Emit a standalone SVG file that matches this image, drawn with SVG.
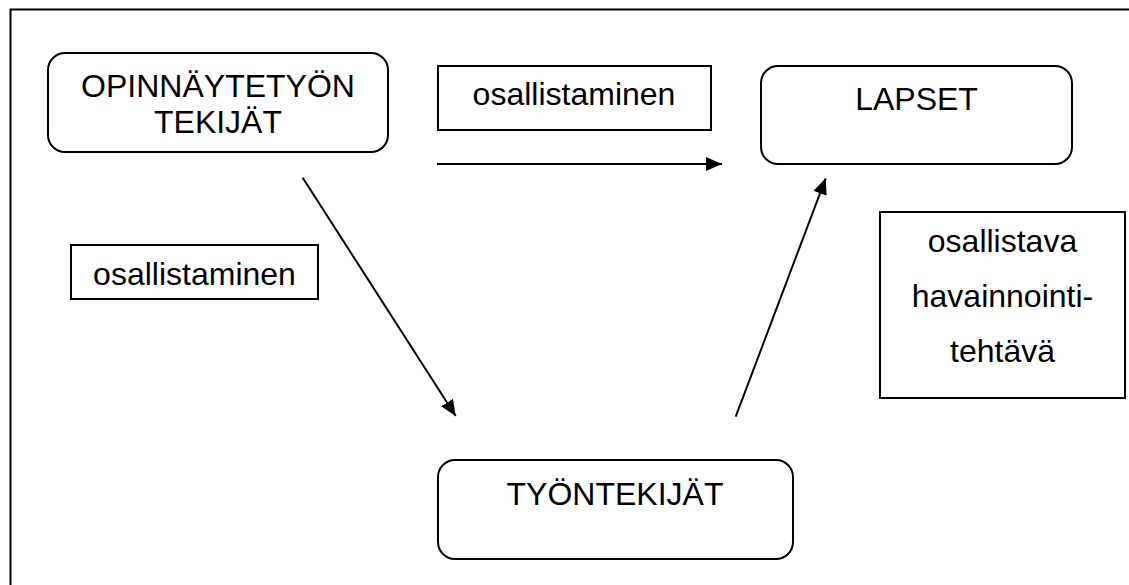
<svg xmlns="http://www.w3.org/2000/svg" width="1129" height="585" viewBox="0 0 1129 585">
<style>
.box{fill:#fff;stroke:#000;stroke-width:2}
.t{font-family:"Liberation Sans",Arial,sans-serif;font-size:32px;fill:#000;text-anchor:middle}
.c{stroke:#000;stroke-width:2;fill:none}
</style>
<defs>
<marker id="ah" markerUnits="userSpaceOnUse" markerWidth="17" markerHeight="15" refX="16" refY="7" orient="auto">
<path d="M0,0 L16,7 L0,14 z" fill="#000"/>
</marker>
</defs>
<rect width="1129" height="585" fill="#fff"/>
<path d="M10.5,585 V9.5 H1129" fill="none" stroke="#000" stroke-width="2"/>
<g id="opinnaytetyon-tekijat">
<rect class="box" x="48" y="53" width="340" height="99" rx="17"/>
<text class="t" x="218" y="97">OPINNÄYTETYÖN</text>
<text class="t" x="218" y="133">TEKIJÄT</text>
</g>
<g id="lapset">
<rect class="box" x="761" y="66" width="311" height="98" rx="17"/>
<text class="t" x="916.5" y="110">LAPSET</text>
</g>
<g id="tyontekijat">
<rect class="box" x="438" y="460" width="355" height="99" rx="17"/>
<text class="t" x="615" y="505">TYÖNTEKIJÄT</text>
</g>
<g id="label-top">
<rect class="box" x="438" y="66" width="273" height="64"/>
<text class="t" x="574" y="105">osallistaminen</text>
</g>
<g id="label-left">
<rect class="box" x="71" y="245" width="247" height="54"/>
<text class="t" x="194.5" y="285">osallistaminen</text>
</g>
<g id="label-right">
<rect class="box" x="880" y="212" width="245" height="186"/>
<text class="t" x="1002.5" y="252">osallistava</text>
<text class="t" x="1002.5" y="307">havainnointi-</text>
<text class="t" x="1002.5" y="362">tehtävä</text>
</g>
<g id="connectors">
<line class="c" x1="437" y1="164" x2="722" y2="164" marker-end="url(#ah)"/>
<line class="c" x1="302.7" y1="177.7" x2="455.7" y2="416" marker-end="url(#ah)"/>
<line class="c" x1="735.7" y1="416.7" x2="825.7" y2="178.3" marker-end="url(#ah)"/>
</g>
</svg>
